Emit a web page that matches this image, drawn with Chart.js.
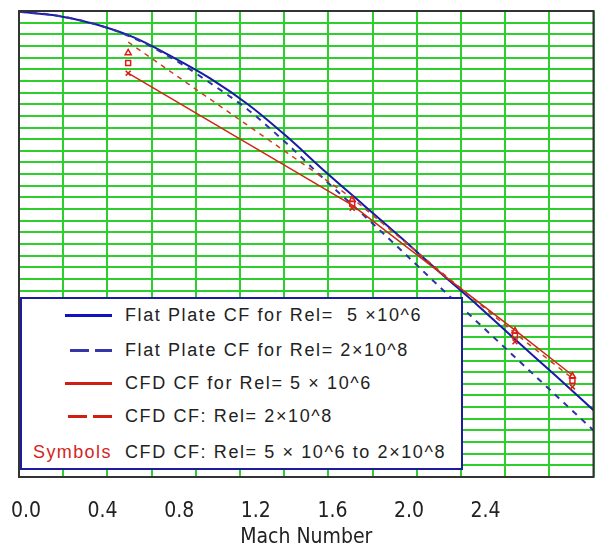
<!DOCTYPE html>
<html>
<head>
<meta charset="utf-8">
<title>Skin friction vs Mach number</title>
<script src="https://cdn.jsdelivr.net/npm/chart.js@4.4.1/dist/chart.umd.min.js"></script>
<style>
  html, body { margin: 0; padding: 0; background: #fff; }
  #wrap { position: relative; width: 599px; height: 550px; }
  #legendBox {
    position: absolute; left: 20px; top: 297px; width: 443px; height: 173px;
    box-sizing: border-box; border: 2px solid #1c1c9e; background: #fff;
    font-family: 'Liberation Sans', Arial, sans-serif; font-size: 18px;
    letter-spacing: 1.6px; color: #222;
  }
  #legendBox .txt { position: absolute; left: 103px; line-height: 20px; white-space: pre; }
  #legendBox .sym { position: absolute; left: 11px; line-height: 20px; color: #d42424; letter-spacing: 1.4px; }
  #legendBox .sw { position: absolute; height: 3px; }
</style>
</head>
<body>
<div id="wrap">
  <canvas id="chartCf" width="599" height="550"></canvas>
  <div id="legendBox">
    <div class="sw" style="left:43px;width:47px;top:15px;background:#1212c4"></div>
    <div class="txt" style="top:6px">Flat Plate CF for Rel=  5 ×10^6</div>
    <div class="sw" style="left:48px;width:42px;top:50px;background:linear-gradient(to right,#3636a8 0 19px,transparent 19px 25px,#3636a8 25px 42px)"></div>
    <div class="txt" style="top:41px">Flat Plate CF for Rel= 2×10^8</div>
    <div class="sw" style="left:43px;width:47px;top:83px;background:#d01e14"></div>
    <div class="txt" style="top:74px">CFD CF for Rel= 5 × 10^6</div>
    <div class="sw" style="left:46px;width:44px;top:116px;background:linear-gradient(to right,#d01e14 0 19px,transparent 19px 25px,#d01e14 25px 44px)"></div>
    <div class="txt" style="top:107px">CFD CF: Rel= 2×10^8</div>
    <div class="sym" style="top:143px">Symbols</div>
    <div class="txt" style="top:143px">CFD CF: Rel= 5 × 10^6 to 2×10^8</div>
  </div>
</div>
<script>
// flat plate theory, sampled every 0.2 in Mach
const MACH = [0, 0.2, 0.4, 0.6, 0.8, 1.0, 1.2, 1.4, 1.6, 1.8, 2.0, 2.2, 2.4, 2.6, 2.8, 3.0];
const FLAT_PLATE_5E6 = [0.999, 0.994, 0.983, 0.966, 0.941, 0.913, 0.879, 0.838, 0.793, 0.750, 0.707, 0.663, 0.620, 0.575, 0.531, 0.486];
const FLAT_PLATE_2E8 = [0.999, 0.994, 0.983, 0.965, 0.939, 0.907, 0.872, 0.829, 0.782, 0.737, 0.691, 0.644, 0.598, 0.552, 0.506, 0.460];

// CFD runs
const CFD_MACH = [0.57, 1.74, 2.59, 2.89];
const CFD_5E6 = [0.920, 0.750, 0.589, 0.531];
const CFD_2E8 = [0.960, 0.759, 0.585, 0.527];

// intermediate Reynolds numbers, shown as symbols
const SYM_TRIANGLE = [0.946, 0.757, 0.588, 0.530];
const SYM_SQUARE = [0.933, 0.752, 0.582, 0.524];
const SYM_CROSS = [0.920, 0.746, 0.574, 0.516];

const GRID_COLS = 13;
const GRID_ROWS = 40;

const pts = (xs, ys) => xs.map((x, i) => ({ x, y: ys[i] }));
const labelFont = { family: "'DejaVu Sans Condensed', 'Liberation Sans Narrow', Arial, sans-serif", size: 21 };

const plotFrame = {
  id: 'plotFrame',
  afterDatasetsDraw(chart) {
    const { ctx, chartArea: a } = chart;
    ctx.save();
    ctx.strokeStyle = '#333';
    ctx.lineWidth = 2;
    ctx.strokeRect(a.left, a.top, a.right - a.left, a.bottom - a.top);
    ctx.restore();
  }
};

// keep the axes from pushing the plot area inwards
function flatX(height) {
  return (s) => { s.height = height; s.paddingLeft = 0; s.paddingRight = 0; };
}
function flatY(s) {
  s.width = 0; s.paddingTop = 0; s.paddingBottom = 0;
}

function symbolSet(data, style) {
  return {
    data: pts(CFD_MACH, data),
    showLine: false,
    pointStyle: style,
    pointRadius: 3.5,
    pointBorderWidth: 1.5,
    borderColor: '#e01818',
    backgroundColor: 'rgba(0,0,0,0)'
  };
}

new Chart(document.getElementById('chartCf'), {
  type: 'scatter',
  data: {
    datasets: [
      {
        data: pts(CFD_MACH, CFD_5E6),
        showLine: true,
        borderColor: '#cc2a14',
        borderWidth: 1.5,
        pointRadius: 0
      },
      {
        data: pts(CFD_MACH, CFD_2E8),
        showLine: true,
        borderColor: '#d03a20',
        borderWidth: 1.5,
        borderDash: [5, 5],
        pointRadius: 0
      },
      symbolSet(SYM_TRIANGLE, 'triangle'),
      symbolSet(SYM_SQUARE, 'rect'),
      symbolSet(SYM_CROSS, 'crossRot'),
      {
        data: pts(MACH, FLAT_PLATE_2E8),
        showLine: true,
        borderColor: '#3232a6',
        borderWidth: 2,
        borderDash: [6, 6],
        cubicInterpolationMode: 'monotone',
        pointRadius: 0
      },
      {
        data: pts(MACH, FLAT_PLATE_5E6),
        showLine: true,
        borderColor: '#1a1aa8',
        borderWidth: 2,
        cubicInterpolationMode: 'monotone',
        pointRadius: 0
      }
    ]
  },
  options: {
    responsive: false,
    animation: false,
    devicePixelRatio: 1,
    layout: { padding: { left: 19, right: 2, top: 11, bottom: 0 } },
    plugins: {
      legend: { display: false },
      tooltip: { enabled: false }
    },
    scales: {
      x: {
        type: 'linear',
        position: 'bottom',
        min: 0,
        max: 3.0,
        grid: { display: false },
        border: { display: false },
        ticks: {
          stepSize: 0.4,
          autoSkip: false,
          maxRotation: 0,
          padding: 14,
          labelOffset: 7,
          color: '#222',
          font: labelFont,
          callback: (v) => (v <= 2.41 ? v.toFixed(1) : '')
        },
        title: {
          display: true,
          text: 'Mach Number',
          color: '#222',
          font: { family: labelFont.family, size: 21 },
          padding: { top: 0, bottom: 0 }
        },
        afterFit: flatX(73)
      },
      xg: {
        type: 'linear',
        position: 'bottom',
        min: 0,
        max: GRID_COLS,
        grid: { color: '#2ccf2c', lineWidth: 2, drawTicks: false },
        border: { display: false },
        ticks: { display: false, stepSize: 1, maxTicksLimit: 100 },
        afterFit: flatX(0)
      },
      y: { display: false, min: 0.4, max: 1.0 },
      yg: {
        type: 'linear',
        position: 'left',
        min: 0,
        max: GRID_ROWS,
        grid: { color: '#2ccf2c', lineWidth: 2, drawTicks: false },
        border: { display: false },
        ticks: { display: false, stepSize: 1, maxTicksLimit: 100 },
        afterFit: flatY
      }
    }
  },
  plugins: [plotFrame]
});
</script>
</body>
</html>
